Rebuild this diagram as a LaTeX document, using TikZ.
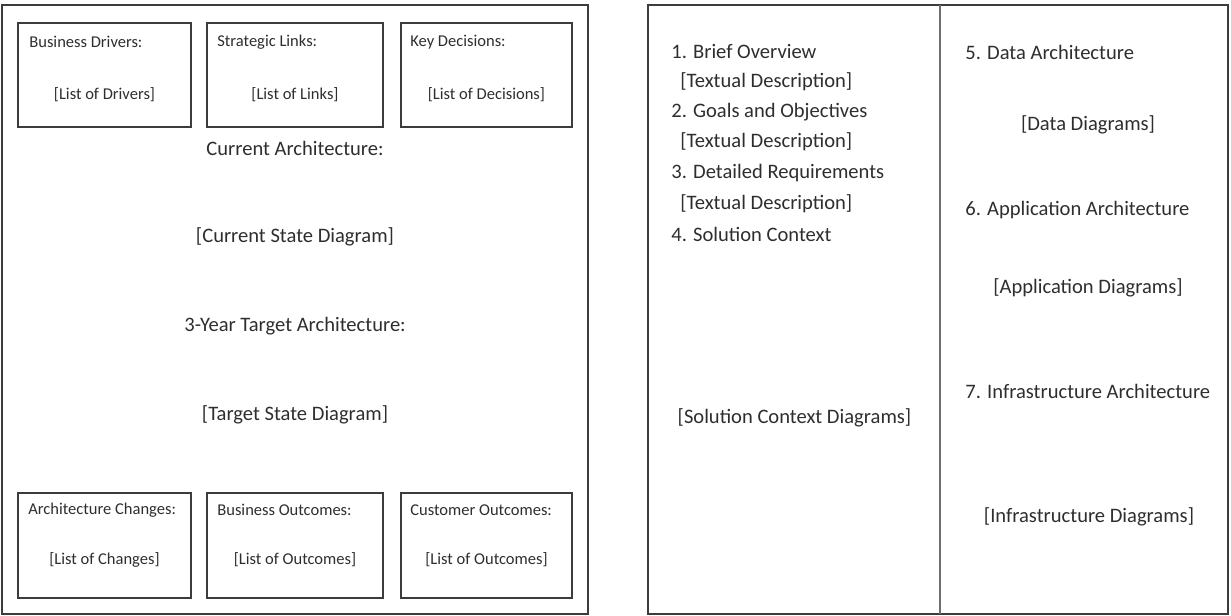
\documentclass[tikz,border=0pt]{standalone}
\usepackage{fontspec}
\setmainfont{Carlito}

\definecolor{framegray}{HTML}{3C3C3C}
\definecolor{rulegray}{HTML}{6E6E6E}
\definecolor{textgray}{HTML}{2E2E2E}

\begin{document}
\begin{tikzpicture}[x=0.2mm,y=-0.2mm,
	frame/.style={draw=framegray,line width=1pt},
	big/.style={text=textgray,inner sep=0pt,font=\fontsize{11.7}{14}\selectfont},
	small/.style={text=textgray,inner sep=0pt,font=\fontsize{9.4}{11}\selectfont}]
	\useasboundingbox (0,0) rectangle (1231,616);

	% left sheet
	\draw[frame] (2,5) rectangle (588,614);

	\draw[frame] (18,23) rectangle (191,127);
	\draw[frame] (207,23) rectangle (383,127);
	\draw[frame] (401,23) rectangle (572,127);
	\node[small,anchor=west] (drvT) at (29,42) {Business Drivers:};
	\node[small] (drv) at (104.5,95) {[List of Drivers]};
	\node[small,anchor=west] (lnkT) at (217,42) {Strategic Links:};
	\node[small] (lnk) at (295,95) {[List of Links]};
	\node[small,anchor=west] (decT) at (410,42) {Key Decisions:};
	\node[small] (dec) at (486.5,95) {[List of Decisions]};

	\node[big] (cur) at (295,148) {Current Architecture:};
	\node[big] (curD) at (295,237) {[Current State Diagram]};
	\node[big] (tgt) at (295,326) {3-Year Target Architecture:};
	\node[big] (tgtD) at (295,415) {[Target State Diagram]};

	\draw[frame] (18,493) rectangle (191,598);
	\draw[frame] (207,493) rectangle (383,598);
	\draw[frame] (401,493) rectangle (572,598);
	\node[small,anchor=west] (chgT) at (28,510) {Architecture Changes:};
	\node[small] (chg) at (104.5,560) {[List of Changes]};
	\node[small,anchor=west] (busT) at (217,510) {Business Outcomes:};
	\node[small] (bus) at (295,560) {[List of Outcomes]};
	\node[small,anchor=west] (cusT) at (410,510) {Customer Outcomes:};
	\node[small] (cus) at (486.5,560) {[List of Outcomes]};

	% right sheet
	\draw[frame] (648,5) rectangle (1228,614);
	\draw[draw=rulegray,line width=1.4pt] (940,5) -- (940,614);

	\node[big,anchor=west] (s1) at (671,52) {1. Brief Overview};
	\node[big,anchor=west] (d1) at (680,82) {[Textual Description]};
	\node[big,anchor=west] (s2) at (671,112) {2. Goals and Objectives};
	\node[big,anchor=west] (d2) at (680,142) {[Textual Description]};
	\node[big,anchor=west] (s3) at (671,173) {3. Detailed Requirements};
	\node[big,anchor=west] (d3) at (680,204) {[Textual Description]};
	\node[big,anchor=west] (s4) at (671,234) {4. Solution Context};
	\node[big] (d4) at (794.5,418) {[Solution Context Diagrams]};

	\node[big,anchor=west] (s5) at (965,52) {5. Data Architecture};
	\node[big] (d5) at (1088,125) {[Data Diagrams]};
	\node[big,anchor=west] (s6) at (965,210) {6. Application Architecture};
	\node[big] (d6) at (1088,288) {[Application Diagrams]};
	\node[big,anchor=west] (s7) at (965,391) {7. Infrastructure Architecture};
	\node[big] (d7) at (1089,517) {[Infrastructure Diagrams]};
\end{tikzpicture}
\end{document}
